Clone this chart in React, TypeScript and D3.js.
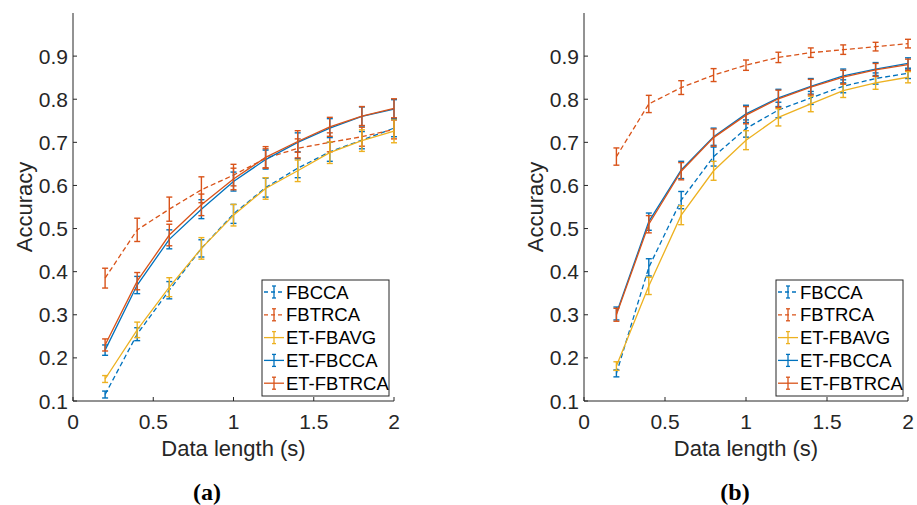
import * as d3 from "d3";

// shared x values (data length in seconds)
const lengths = [0.2, 0.4, 0.6, 0.8, 1.0, 1.2, 1.4, 1.6, 1.8, 2.0];
const seriesNames = ["FBCCA", "FBTRCA", "ET-FBAVG", "ET-FBCCA", "ET-FBTRCA"];
const xTicks = [0, 0.5, 1, 1.5, 2];
const yTicks = [0.1, 0.2, 0.3, 0.4, 0.5, 0.6, 0.7, 0.8, 0.9];

// panel (a)
const aFBCCA = [0.115, 0.255, 0.357, 0.454, 0.534, 0.595, 0.64, 0.678, 0.705, 0.733];
const aFBTRCA = [0.385, 0.497, 0.545, 0.59, 0.624, 0.663, 0.686, 0.7, 0.713, 0.73];
const aFBAVG = [0.151, 0.265, 0.364, 0.454, 0.531, 0.593, 0.634, 0.676, 0.704, 0.726];
const aETFBCCA = [0.218, 0.369, 0.475, 0.545, 0.609, 0.66, 0.7, 0.733, 0.76, 0.777];
const aETFBTRCA = [0.23, 0.378, 0.485, 0.555, 0.615, 0.665, 0.702, 0.736, 0.761, 0.779];
const aErrFBCCA = [0.008, 0.015, 0.02, 0.02, 0.022, 0.022, 0.022, 0.022, 0.02, 0.02];
const aErrFBTRCA = [0.023, 0.027, 0.028, 0.03, 0.025, 0.022, 0.022, 0.022, 0.022, 0.022];
const aErrFBAVG = [0.008, 0.018, 0.022, 0.025, 0.025, 0.025, 0.025, 0.025, 0.025, 0.027];
const aErrETFBCCA = [0.012, 0.02, 0.022, 0.022, 0.022, 0.022, 0.022, 0.022, 0.022, 0.022];
const aErrETFBTRCA = [0.014, 0.02, 0.025, 0.025, 0.025, 0.025, 0.025, 0.022, 0.022, 0.022];

// panel (b)
const bFBCCA = [0.164, 0.41, 0.566, 0.667, 0.732, 0.775, 0.803, 0.83, 0.848, 0.86];
const bFBTRCA = [0.667, 0.789, 0.827, 0.856, 0.879, 0.897, 0.908, 0.915, 0.922, 0.929];
const bFBAVG = [0.181, 0.367, 0.531, 0.634, 0.705, 0.758, 0.789, 0.82, 0.838, 0.851];
const bETFBCCA = [0.303, 0.516, 0.636, 0.713, 0.766, 0.803, 0.83, 0.854, 0.87, 0.883];
const bETFBTRCA = [0.3, 0.51, 0.633, 0.711, 0.763, 0.801, 0.828, 0.851, 0.868, 0.88];
const bErrFBCCA = [0.008, 0.02, 0.02, 0.022, 0.02, 0.018, 0.015, 0.015, 0.013, 0.012];
const bErrFBTRCA = [0.02, 0.02, 0.016, 0.015, 0.012, 0.012, 0.011, 0.011, 0.01, 0.01];
const bErrFBAVG = [0.01, 0.02, 0.022, 0.022, 0.022, 0.02, 0.018, 0.016, 0.015, 0.013];
const bErrETFBCCA = [0.015, 0.02, 0.02, 0.02, 0.02, 0.02, 0.018, 0.016, 0.015, 0.013];
const bErrETFBTRCA = [0.015, 0.02, 0.02, 0.02, 0.02, 0.02, 0.018, 0.016, 0.015, 0.013];

const BLUE = "#0072BD";
const ORANGE = "#D95319";
const YELLOW = "#EDB120";
const AXIS = "#262626";
const FONT = "'Liberation Sans', Arial, sans-serif";

const styles = [
  { color: BLUE, dash: "5,3" },
  { color: ORANGE, dash: "5,3" },
  { color: YELLOW, dash: null },
  { color: BLUE, dash: null },
  { color: ORANGE, dash: null },
];

function Panel({ left, right, values, errors, caption, captionX }) {
  const top = 13;
  const bottom = 401;
  const x = d3.scaleLinear().domain([0, 2]).range([left, right]);
  const y = d3.scaleLinear().domain([0.1, 1.0]).range([bottom, top]);
  const line = d3
    .line<number>()
    .x((d, i) => x(lengths[i]))
    .y((d) => y(d));
  const cap = 3;

  const legX = right - 132;
  const legY = 280;
  const rowH = 22.8;

  return (
    <g>
      {/* series */}
      {values.map((vals, s) => (
        <g key={s}>
          <path
            d={line(vals)}
            fill="none"
            stroke={styles[s].color}
            strokeWidth={1.3}
            strokeDasharray={styles[s].dash || undefined}
          />
          {vals.map((v, i) => {
            const cx = x(lengths[i]);
            const y1 = y(v + errors[s][i]);
            const y2 = y(v - errors[s][i]);
            return (
              <g key={i} stroke={styles[s].color} strokeWidth={1.4}>
                <line x1={cx} x2={cx} y1={y1} y2={y2} />
                <line x1={cx - cap} x2={cx + cap} y1={y1} y2={y1} />
                <line x1={cx - cap} x2={cx + cap} y1={y2} y2={y2} />
              </g>
            );
          })}
        </g>
      ))}

      {/* axes */}
      <g stroke={AXIS} strokeWidth={1} fill="none">
        <line x1={left} x2={left} y1={top} y2={bottom} />
        <line x1={left} x2={right} y1={bottom} y2={bottom} />
        {yTicks.map((t) => (
          <line key={t} x1={left} x2={left + 4} y1={y(t)} y2={y(t)} />
        ))}
        {xTicks.map((t) => (
          <line key={t} x1={x(t)} x2={x(t)} y1={bottom} y2={bottom - 4} />
        ))}
      </g>
      <g fill={AXIS} fontFamily={FONT} fontSize={21}>
        {yTicks.map((t) => (
          <text key={t} x={left - 5} y={y(t)} dy="0.36em" textAnchor="end">
            {d3.format(".1f")(t)}
          </text>
        ))}
        {xTicks.map((t) => (
          <text key={t} x={x(t)} y={429} textAnchor="middle">
            {String(t)}
          </text>
        ))}
        <text x={(left + right) / 2} y={456} textAnchor="middle" fontSize={22}>
          Data length (s)
        </text>
        <text
          transform={`translate(${left - 41},${(top + bottom) / 2}) rotate(-90)`}
          textAnchor="middle"
          fontSize={22}
        >
          Accuracy
        </text>
      </g>

      {/* legend */}
      <rect
        x={legX}
        y={legY}
        width={127}
        height={116}
        fill="white"
        stroke={AXIS}
        strokeWidth={1}
      />
      {seriesNames.map((name, s) => {
        const ry = legY + 12 + s * rowH;
        const lx = legX + 12;
        return (
          <g key={name}>
            <line
              x1={legX + 2}
              x2={legX + 22}
              y1={ry}
              y2={ry}
              stroke={styles[s].color}
              strokeWidth={1.3}
              strokeDasharray={styles[s].dash ? "4,3" : undefined}
            />
            <g stroke={styles[s].color} strokeWidth={1.3}>
              <line x1={lx} x2={lx} y1={ry - 6} y2={ry + 6} />
              <line x1={lx - 2} x2={lx + 2} y1={ry - 6} y2={ry - 6} />
              <line x1={lx - 2} x2={lx + 2} y1={ry + 6} y2={ry + 6} />
            </g>
            <text
              x={legX + 24}
              y={ry}
              dy="0.36em"
              fontFamily={FONT}
              fontSize={18.5}
              fill="#000"
            >
              {name}
            </text>
          </g>
        );
      })}

      <text
        x={captionX}
        y={500}
        textAnchor="middle"
        fontFamily="'Liberation Serif', 'DejaVu Serif', serif"
        fontWeight="bold"
        fontSize={24}
        fill="#000"
      >
        {caption}
      </text>
    </g>
  );
}

export default function App() {
  return (
    <div style={{ position: "absolute", left: 0, top: 0 }}>
      <svg width={917} height={505} style={{ display: "block", background: "white" }}>
        <Panel
          left={73}
          right={394}
          values={[aFBCCA, aFBTRCA, aFBAVG, aETFBCCA, aETFBTRCA]}
          errors={[aErrFBCCA, aErrFBTRCA, aErrFBAVG, aErrETFBCCA, aErrETFBTRCA]}
          caption="(a)"
          captionX={207}
        />
        <Panel
          left={584}
          right={908}
          values={[bFBCCA, bFBTRCA, bFBAVG, bETFBCCA, bETFBTRCA]}
          errors={[bErrFBCCA, bErrFBTRCA, bErrFBAVG, bErrETFBCCA, bErrETFBTRCA]}
          caption="(b)"
          captionX={735}
        />
      </svg>
    </div>
  );
}
